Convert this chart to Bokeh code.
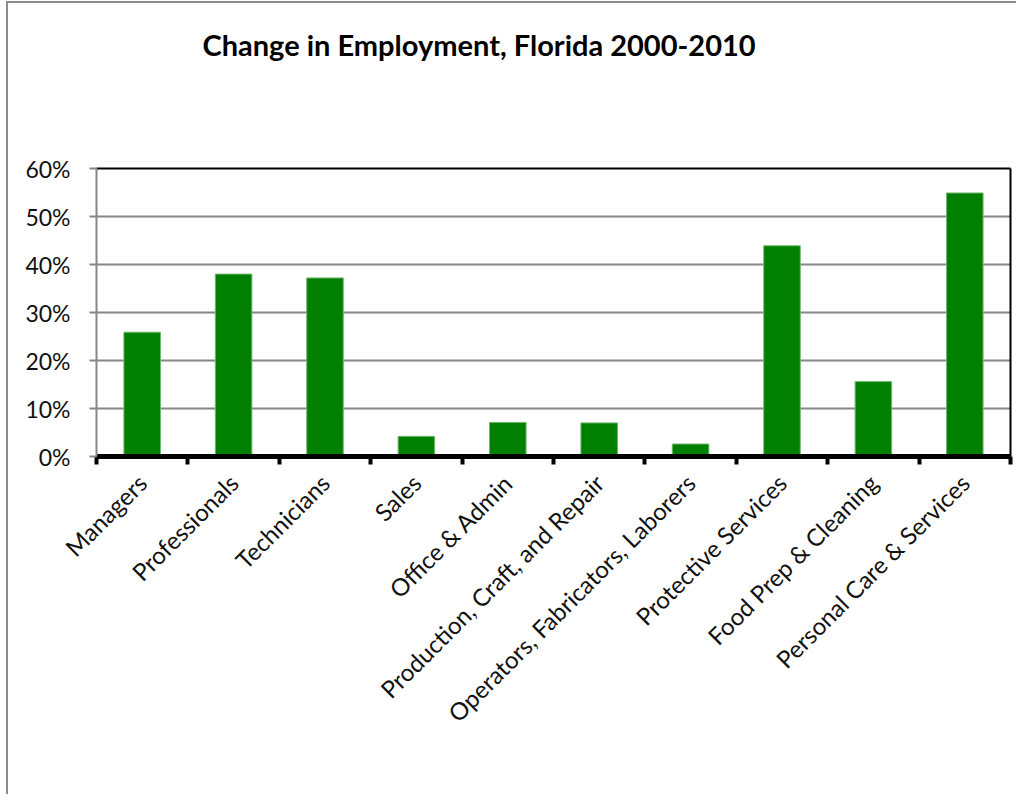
import math
from bokeh.plotting import figure
from bokeh.models import (ColumnDataSource, LinearAxis, FixedTicker, Range1d, Grid,
                          NumeralTickFormatter, Title)
from bokeh.embed import file_html
from bokeh.resources import INLINE

categories = ["Managers", "Professionals", "Technicians", "Sales", "Office & Admin",
              "Production, Craft, and Repair", "Operators, Fabricators, Laborers",
              "Protective Services", "Food Prep & Cleaning", "Personal Care & Services"]
values = [0.259, 0.380, 0.372, 0.042, 0.071, 0.070, 0.026, 0.439, 0.156, 0.549]
y_ticks = [0.0, 0.1, 0.2, 0.3, 0.4, 0.5, 0.6]
title_text = "Change in Employment, Florida 2000-2010"

n = len(categories)
centers = [i + 0.5 for i in range(n)]
bounds = [float(i) for i in range(n + 1)]

src = ColumnDataSource(dict(x=centers, top=values, cat=categories))

FONT = "Lato"
OFF_X, OFF_Y = 8, 3   # outer border offset (margin + border width)
W, H = 1022 - OFF_X - 4, 798 - OFF_Y - 2

p = figure(width=W, height=H, output_backend="svg", toolbar_location=None,
           x_range=Range1d(0, n), y_range=Range1d(0, 0.6),
           x_axis_type=None, y_axis_type=None,
           min_border_left=96 - OFF_X, min_border_right=8, min_border_top=168 - OFF_Y,
           min_border_bottom=798 - 456 - 2)
p.styles = {"border-left": "2px solid #8c8c8c", "border-top": "2px solid #8c8c8c",
            "border-right": "none", "border-bottom": "none",
            "margin-left": "6px", "margin-top": "1px"}
p.outline_line_color = None
p.background_fill_color = "white"
p.border_fill_color = "white"

p.title.text = title_text
p.title.align = "left"
p.title.offset = 106
p.title.text_font = FONT
p.title.text_font_style = "bold"
p.title.text_font_size = "29px"
p.title.text_color = "black"
p.title.standoff = 0

p.vbar(x="x", top="top", width=0.4, bottom=0, source=src,
       fill_color="#007f00", line_color="#6fb86f", line_width=1)

# y axis (left, gray)
yax = LinearAxis(ticker=FixedTicker(ticks=y_ticks),
                 formatter=NumeralTickFormatter(format="0%"))
yax.axis_line_color = "#878787"
yax.axis_line_width = 2
yax.major_tick_line_color = "#878787"
yax.major_tick_line_width = 2
yax.major_tick_out = 7
yax.major_tick_in = 0
yax.minor_tick_line_color = None
yax.major_label_text_font = FONT
yax.major_label_text_font_size = "23px"
yax.major_label_text_color = "#111111"
yax.major_label_standoff = 19
p.add_layout(yax, "left")

# grid lines
g = Grid(dimension=1, ticker=FixedTicker(ticks=y_ticks[1:-1]))
g.grid_line_color = "#878787"
g.grid_line_width = 2
p.add_layout(g)

# x axis (below, thick black)
label_map = {c: cat for c, cat in zip(centers, categories)}
xax = LinearAxis(ticker=FixedTicker(ticks=centers, minor_ticks=bounds))
xax.major_label_overrides = label_map
xax.axis_line_color = "black"
xax.axis_line_width = 5
xax.major_tick_line_color = None
xax.minor_tick_line_color = "black"
xax.minor_tick_line_width = 4
xax.minor_tick_out = 8
xax.minor_tick_in = 0
xax.major_label_orientation = math.pi / 4
xax.major_label_text_font = FONT
xax.major_label_text_font_size = "24px"
xax.major_label_text_color = "#111111"
xax.major_label_standoff = 14
p.add_layout(xax, "below")

# top and right frame lines
for side in ("above", "right"):
    ax = LinearAxis(ticker=FixedTicker(ticks=[]))
    ax.axis_line_color = "black"
    ax.axis_line_width = 2
    ax.major_tick_line_color = None
    ax.minor_tick_line_color = None
    ax.major_label_text_font_size = "0px"
    p.add_layout(ax, side)

# spacer between the frame and the title
p.add_layout(Title(text=" ", text_font_size="1px", standoff=104), "above")

open("out.html", "w").write(file_html(p, INLINE))
